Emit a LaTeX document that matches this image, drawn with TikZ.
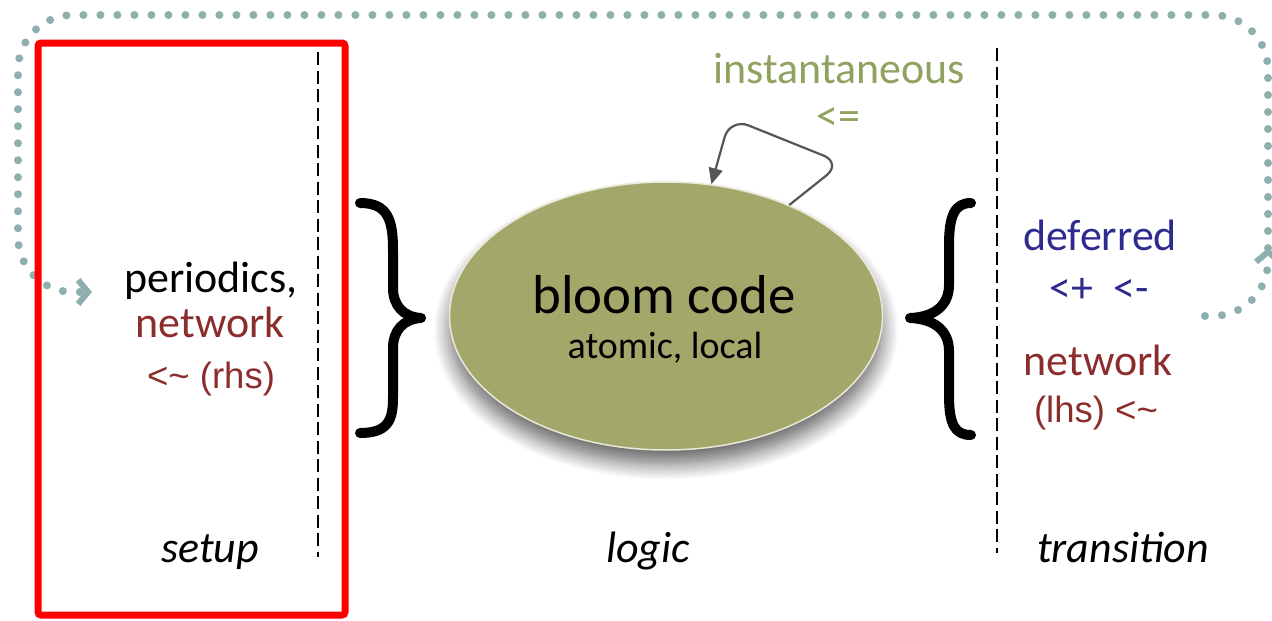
\documentclass[tikz,border=0pt]{standalone}
\usepackage{fontspec}
\setmainfont{Carlito}
\newfontfamily\arialfont{Liberation Sans}
\usepackage{xcolor}
\usetikzlibrary{shapes.geometric,arrows.meta,shadows.blur}

\definecolor{netred}{HTML}{8C2D2D}
\definecolor{defblue}{HTML}{2E2B8F}
\definecolor{instgreen}{HTML}{8FA25F}
\definecolor{codeolive}{HTML}{A3A86A}
\definecolor{loopteal}{HTML}{8DB0AE}
\definecolor{arrowgray}{HTML}{555555}

\begin{document}
\begin{tikzpicture}[x=0.1mm,y=-0.1mm,
	txt/.style={anchor=base,inner sep=0pt,font=\fontsize{12.5}{15}\selectfont},
	smalltxt/.style={anchor=base,inner sep=0pt,font=\arialfont\fontsize{10.4}{12}\selectfont},
	phase/.style={anchor=base,inner sep=0pt,font=\fontsize{12.5}{15}\selectfont\itshape},
	divider/.style={black,line width=0.28mm,dash pattern=on 1.3mm off 0.55mm},
	curly/.style={line width=1mm,line cap=round,line join=round},
	dotloop/.style={loopteal,line width=0.8mm,line cap=round,dash pattern=on 0pt off 1.7mm,rounded corners=5.5mm},
	chevron/.style={-{Straight Barb[length=1mm,width=2.4mm,line width=0.6mm]}}]
	\useasboundingbox (0,0) rectangle (1272,620);
	
	% vòng lặp chấm chấm
	\coordinate (loopstart) at (1205,316);
	\coordinate (loopmid) at (1268,248);
	\coordinate (loopend) at (92,292);
	\draw[dotloop,chevron] (loopstart) -| (loopmid);
	\draw[dotloop,chevron] (loopmid) -- (1268,15) -| (18,292) -- (loopend);
	
	% các đường phân cách
	\draw[divider] (318,52) -- (318,557);
	\draw[divider] (997,48) -- (997,553);
	
	% cột trái
	\node[txt] (periodics) at (211,292) {periodics,};
	\node[txt,text=netred] (netin) at (210,337) {network};
	\node[smalltxt,text=netred] (rhs) at (211,388) {<\textasciitilde\ (rhs)};
	
	% ngoặc nhọn
	\draw[curly] (360,203) .. controls (388,203) and (393,220) .. (393,250) -- (393,288)
		.. controls (393,305) and (403,317) .. (421,318)
		.. controls (403,319) and (393,331) .. (393,348) -- (393,398)
		.. controls (393,420) and (388,433) .. (360,433);
	\draw[curly] (971,203) .. controls (955,203) and (949,215) .. (949,245) -- (949,285)
		.. controls (949,305) and (935,317) .. (910,318)
		.. controls (935,319) and (949,331) .. (949,351) -- (949,395)
		.. controls (949,425) and (955,435) .. (971,435);
	
	% khối bloom code
	\node[ellipse,fill=codeolive,draw=white!75!codeolive,line width=0.15mm,
		minimum width=43.3mm,minimum height=26.8mm,inner sep=0pt,
		blur shadow={shadow xshift=0mm,shadow yshift=-1.4mm,shadow blur radius=1.6mm,
			shadow blur steps=12,shadow opacity=60}]
		(code) at (666,316) {};
	\node[anchor=base,inner sep=0pt,font=\fontsize{15.6}{18}\selectfont] (codetitle) at (664,313) {bloom code};
	\node[anchor=base,inner sep=0pt,font=\fontsize{10.8}{13}\selectfont] (codesub) at (665,358) {atomic, local};
	
	% vòng tự lặp
	\node[txt,text=instgreen] (inst) at (839,83) {instantaneous};
	\node[txt,text=instgreen] (instop) at (838,130) {<=};
	\draw[arrowgray,line width=0.22mm,rounded corners=2mm,-{Triangle[length=1.6mm,width=1.4mm]}]
		(code.42) -- (842,163) -- (730,118) -- (code.71);
	
	% cột phải
	\node[txt,text=defblue] (deferred) at (1100,250) {deferred};
	\node[txt,text=defblue] (defops) at (1099,302) {<+\ \ <-};
	\node[txt,text=netred] (netout) at (1098,375) {network};
	\node[smalltxt,text=netred] (lhs) at (1096,422) {(lhs) <\textasciitilde};
	
	% nhãn các pha
	\foreach \x/\t in {210/setup,648/logic,1123/transition} {
		\node[phase] (\t) at (\x,562) {\t};
	}
	
	% khung đỏ
	\draw[red,line width=0.7mm,rounded corners=0.3mm] (38,43) rectangle (345,615);
\end{tikzpicture}
\end{document}
